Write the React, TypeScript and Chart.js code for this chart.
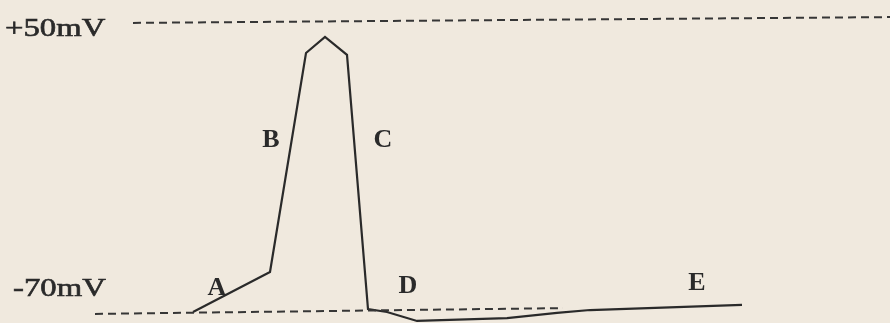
import { useEffect, useRef } from 'react';
import { Chart, registerables } from 'chart.js';

Chart.register(...registerables);

// Membrane potential trace (time in ms, potential in mV)
const times = [0, 1.54, 2.26, 2.64, 3.08, 3.5, 3.88, 4.48, 6.28, 7.28, 7.94, 10.98];
const potential = [-70.4, -53.9, 36.4, 43.0, 35.6, -69.2, -70.4, -74.1, -72.9, -70.8, -69.6, -67.5];

// Dashed reference levels (+50 mV and -70 mV), as drawn (slightly tilted scan)
const upperRefTimes = [-1.2, 13.94];
const upperRefValues = [48.8, 51.2];
const lowerRefTimes = [-1.96, 7.4];
const lowerRefValues = [-71.2, -68.8];

// Level labels
const levelLabels = ['+50mV', '-70mV'];
const levelLabelTimes = [-3.76, -3.6];
const levelLabelValues = [46.3, -60.9];

// Phase letters
const phaseLabels = ['A', 'B', 'C', 'D', 'E'];
const phaseTimes = [0.48, 1.56, 3.8, 4.3, 10.08];
const phaseValues = [-60.5, 0.5, 0.5, -59.7, -58.4];

const BG = '#f0e9de';
const INK = '#2a2a2a';

export default function App() {
  const ref = useRef<HTMLCanvasElement>(null);

  useEffect(() => {
    document.body.style.margin = '0';
    document.body.style.background = BG;
    const canvas = ref.current;
    if (!canvas) return;

    const bgPlugin = {
      id: 'bg',
      beforeDraw(chart: any) {
        const ctx = chart.ctx;
        ctx.save();
        ctx.fillStyle = BG;
        ctx.fillRect(0, 0, chart.width, chart.height);
        ctx.restore();
      },
    };

    const textPlugin = {
      id: 'texts',
      afterDatasetsDraw(chart: any) {
        const ctx = chart.ctx;
        const xs = chart.scales.x;
        const ys = chart.scales.y;
        ctx.save();
        ctx.fillStyle = INK;
        ctx.strokeStyle = INK;
        ctx.lineWidth = 0.6;
        ctx.textBaseline = 'middle';
        ctx.font = '26px "Liberation Serif", "DejaVu Serif", serif';
        levelLabels.forEach((t, i) => {
          const px = xs.getPixelForValue(levelLabelTimes[i]);
          const py = ys.getPixelForValue(levelLabelValues[i]);
          ctx.save();
          ctx.translate(px, py);
          ctx.scale(1.26, 1);
          ctx.textAlign = 'left';
          ctx.fillText(t, 0, 0);
          ctx.strokeText(t, 0, 0);
          ctx.restore();
        });
        ctx.font = 'bold 26px "Liberation Serif", "DejaVu Serif", serif';
        ctx.textAlign = 'center';
        phaseLabels.forEach((t, i) => {
          const px = xs.getPixelForValue(phaseTimes[i]);
          const py = ys.getPixelForValue(phaseValues[i]);
          ctx.fillText(t, px, py);
        });
        ctx.restore();
      },
    };

    const toPts = (xsArr: number[], ysArr: number[]) => xsArr.map((x, i) => ({ x, y: ysArr[i] }));

    const chart = new Chart(canvas, {
      type: 'line',
      data: {
        datasets: [
          {
            data: toPts(upperRefTimes, upperRefValues),
            borderColor: '#363636',
            borderWidth: 2,
            borderDash: [8, 5],
            pointRadius: 0,
            fill: false,
            clip: false as any,
          },
          {
            data: toPts(lowerRefTimes, lowerRefValues),
            borderColor: '#363636',
            borderWidth: 2,
            borderDash: [8, 5],
            pointRadius: 0,
            fill: false,
            clip: false as any,
          },
          {
            data: toPts(times, potential),
            borderColor: INK,
            borderWidth: 2.2,
            pointRadius: 0,
            tension: 0,
            fill: false,
            borderJoinStyle: 'miter',
            clip: false as any,
          },
        ],
      },
      options: {
        animation: false,
        responsive: false,
        maintainAspectRatio: false,
        layout: { padding: 0 },
        plugins: {
          legend: { display: false },
          tooltip: { enabled: false },
          title: { display: false },
        },
        scales: {
          x: { type: 'linear', min: -3.86, max: 13.94, display: false },
          y: { type: 'linear', min: -74.95, max: 58.25, display: false },
        },
      },
      plugins: [bgPlugin, textPlugin],
    });

    return () => chart.destroy();
  }, []);

  return (
    <div style={{ width: 890, height: 323 }}>
      <canvas ref={ref} width={890} height={323} style={{ display: 'block' }} />
    </div>
  );
}
